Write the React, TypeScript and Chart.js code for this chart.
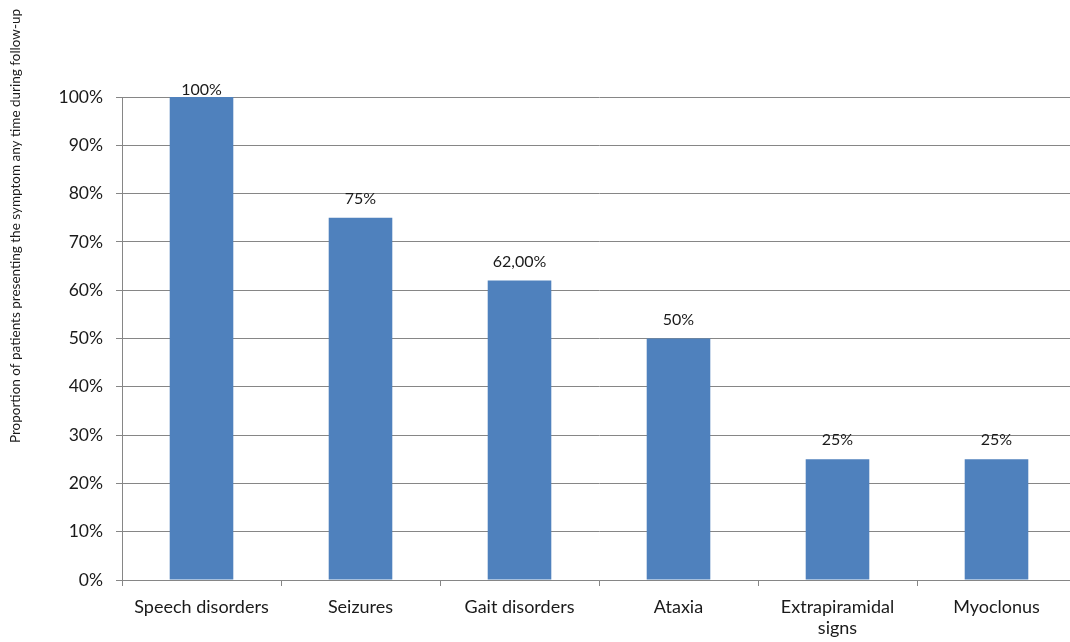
import React, { useEffect, useRef } from "react";
import { Chart, registerables } from "chart.js";

Chart.register(...registerables);

const categories: (string | string[])[] = [
  "Speech disorders",
  "Seizures",
  "Gait disorders",
  "Ataxia",
  ["Extrapiramidal", "signs"],
  "Myoclonus",
];
const values: number[] = [100, 75, 62, 50, 25, 25];
const valueLabels: string[] = ["100%", "75%", "62,00%", "50%", "25%", "25%"];
const yTitle = "Proportion of patients presenting the symptom any time during follow-up";

const FONT = "Lato, 'Open Sans', sans-serif";

const labelPlugin = {
  id: "valueLabels",
  afterDatasetsDraw(chart: any) {
    const ctx = chart.ctx;
    const meta = chart.getDatasetMeta(0);
    ctx.save();
    ctx.font = `16px ${FONT}`;
    ctx.fillStyle = "#1a1a1a";
    ctx.textAlign = "center";
    ctx.textBaseline = "middle";
    meta.data.forEach((bar: any, i: number) => {
      const y = Math.max(bar.y - 19, chart.chartArea.top - 7);
      ctx.fillText(valueLabels[i], bar.x, y);
    });
    ctx.restore();
  },
};

const titlePlugin = {
  id: "yTitle",
  afterDraw(chart: any) {
    const ctx = chart.ctx;
    ctx.save();
    ctx.font = `13.5px ${FONT}`;
    ctx.fillStyle = "#1a1a1a";
    ctx.translate(16, 226);
    ctx.rotate(-Math.PI / 2);
    ctx.textAlign = "center";
    ctx.textBaseline = "middle";
    ctx.fillText(yTitle, 0, 0);
    ctx.restore();
  },
};

export default function App() {
  const ref = useRef<HTMLCanvasElement>(null);
  useEffect(() => {
    if (!ref.current) return;
    const chart = new Chart(ref.current, {
      type: "bar",
      data: {
        labels: categories,
        datasets: [
          {
            data: values,
            backgroundColor: "#4F81BD",
            barPercentage: 0.4,
            categoryPercentage: 1,
          },
        ],
      },
      options: {
        animation: false,
        responsive: false,
        maintainAspectRatio: false,
        layout: { padding: { top: 97, right: 14, left: 0, bottom: 0 } },
        plugins: { legend: { display: false }, tooltip: { enabled: false } },
        scales: {
          x: {
            afterFit: (s: any) => {
              s.height = 62;
            },
            grid: {
              display: true,
              drawOnChartArea: false,
              drawTicks: true,
              tickLength: 6,
              offset: true,
              color: "#868686",
            },
            border: { display: true, color: "#868686" },
            ticks: {
              font: { family: FONT, size: 18 },
              color: "#1a1a1a",
              padding: 10,
              maxRotation: 0,
              autoSkip: false,
            },
          },
          y: {
            min: 0,
            max: 100,
            afterFit: (s: any) => {
              s.width = 122;
            },
            grid: {
              color: "#868686",
              tickLength: 6,
            },
            border: { display: true, color: "#868686" },
            ticks: {
              stepSize: 10,
              font: { family: FONT, size: 17.5 },
              color: "#1a1a1a",
              padding: 13,
              callback: (v: any) => `${v}%`,
            },
          },
        },
      },
      plugins: [labelPlugin, titlePlugin],
    });
    return () => chart.destroy();
  }, []);
  return (
    <div
      style={{
        position: "fixed",
        left: 0,
        top: 0,
        width: 1070,
        height: 642,
        overflow: "hidden",
        background: "#fff",
      }}
    >
      <canvas ref={ref} width={1090} height={642} style={{ display: "block" }} />
    </div>
  );
}
